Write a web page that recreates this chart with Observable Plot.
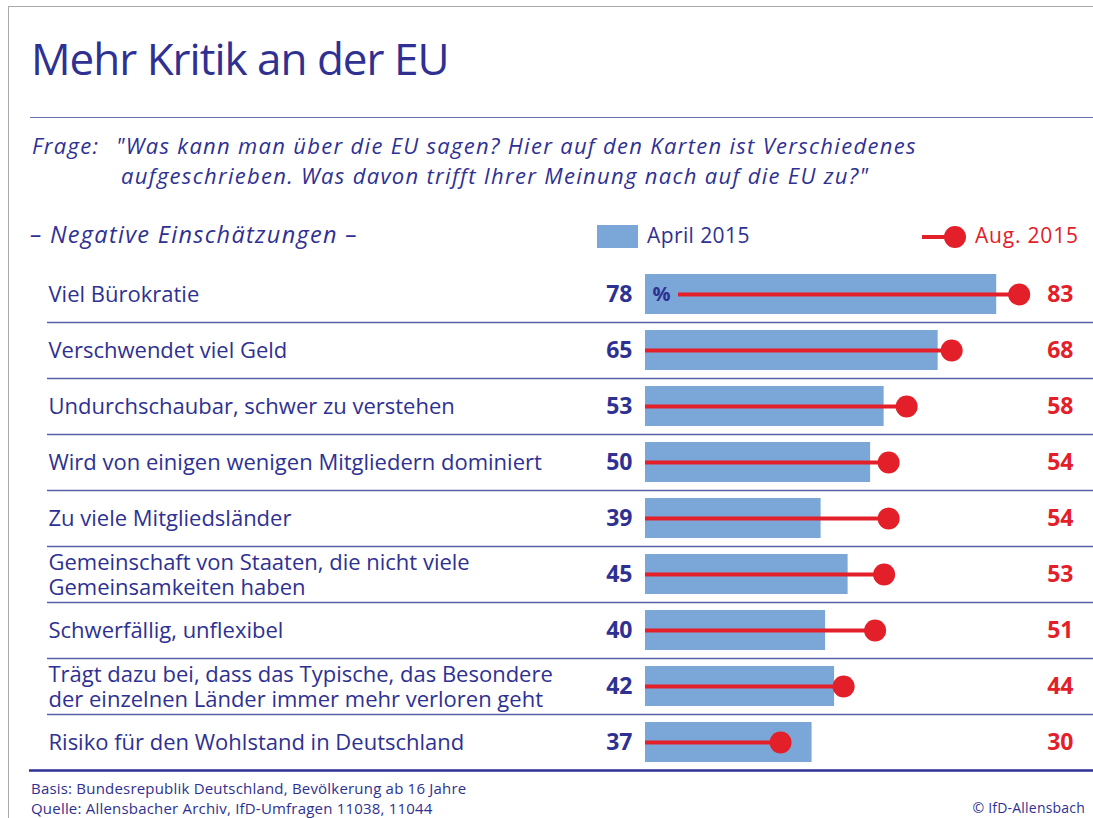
<!DOCTYPE html>
<html>
<head>
<meta charset="utf-8">
<script src="https://cdn.jsdelivr.net/npm/d3@7"></script>
<script src="https://cdn.jsdelivr.net/npm/@observablehq/plot@0.6"></script>
<style>
  html, body { margin:0; padding:0; background:#fff; }
  #page { position:relative; width:1093px; height:818px; overflow:hidden; font-family:"Open Sans", sans-serif; color:#2e3192; }
  .abs { position:absolute; white-space:nowrap; line-height:1; }
  #frame { position:absolute; left:8px; top:6px; width:1200px; height:1000px; border-left:1.5px solid #aaa; border-top:1.5px solid #aaa; }
  #title { left:31px; top:36px; font-size:44px; letter-spacing:-1px; }
  #titleline { position:absolute; left:30px; top:117px; width:1070px; height:0; border-top:1.5px solid #6a6fb5; }
  .q { font-style:italic; font-size:22px; letter-spacing:1.3px; }
  #legsq { position:absolute; left:597px; top:225px; width:41px; height:23px; background:#7ba7d8; }
  #legline { position:absolute; left:922px; top:235px; width:30px; height:4px; background:#e3202a; }
  #legdot { position:absolute; left:944px; top:226px; width:22px; height:22px; border-radius:50%; background:#e3202a; }
  .foot { font-size:15px; letter-spacing:0.2px; }
  #chart { position:absolute; left:0; top:258px; }
</style>
</head>
<body>
<div id="page">
  <div id="frame"></div>
  <div class="abs" id="title">Mehr Kritik an der EU</div>
  <div id="titleline"></div>
  <div class="abs q" style="left:32px; top:134px;">Frage:</div>
  <div class="abs q" style="left:116px; top:134px;">"Was kann man über die EU sagen? Hier auf den Karten ist Verschiedenes</div>
  <div class="abs q" style="left:121px; top:164px;">aufgeschrieben. Was davon trifft Ihrer Meinung nach auf die EU zu?"</div>
  <div class="abs q" style="left:30px; top:223px; font-size:23.5px; letter-spacing:1.3px;">– Negative Einschätzungen –</div>
  <div id="legsq"></div>
  <div class="abs" style="left:647px; top:225px; font-size:21px; letter-spacing:0.4px;">April 2015</div>
  <div id="legline"></div>
  <div id="legdot"></div>
  <div class="abs" style="left:975px; top:225px; font-size:21px; letter-spacing:0.8px; color:#e3202a;">Aug. 2015</div>
  <div id="chart"></div>
  <div class="abs foot" style="left:31px; top:781px;">Basis: Bundesrepublik Deutschland, Bevölkerung ab 16 Jahre</div>
  <div class="abs foot" style="left:31px; top:801px;">Quelle: Allensbacher Archiv, IfD-Umfragen 11038, 11044</div>
  <div class="abs foot" style="right:8px; top:801px; font-size:14px;">© IfD-Allensbach</div>
</div>
<script>
const categories = [
  "Viel Bürokratie",
  "Verschwendet viel Geld",
  "Undurchschaubar, schwer zu verstehen",
  "Wird von einigen wenigen Mitgliedern dominiert",
  "Zu viele Mitgliedsländer",
  "Gemeinschaft von Staaten, die nicht viele\nGemeinsamkeiten haben",
  "Schwerfällig, unflexibel",
  "Trägt dazu bei, dass das Typische, das Besondere\nder einzelnen Länder immer mehr verloren geht",
  "Risiko für den Wohlstand in Deutschland"
];
const april2015 = [78, 65, 53, 50, 39, 45, 40, 42, 37];
const aug2015 = [83, 68, 58, 54, 54, 53, 51, 44, 30];

const BLUE = "#2e3192", RED = "#e3202a", BAR = "#7ba7d8";
const rows = categories.map((c, i) => ({cat: c, apr: april2015[i], aug: aug2015[i], idx: i}));
const first = rows.filter(d => d.idx === 0);
const rest = rows.filter(d => d.idx !== 0);

const chart = Plot.plot({
  width: 1093,
  height: 520,
  marginLeft: 645,
  marginRight: 0,
  marginTop: 7,
  marginBottom: 7,
  x: {domain: [0, 99.5], axis: null},
  y: {domain: categories, axis: null, padding: 0},
  style: {fontFamily: "'Open Sans', sans-serif", background: "transparent"},
  marks: [
    Plot.barX(rows, {x: "apr", y: "cat", fill: BAR, insetTop: 8, insetBottom: 8}),
    Plot.ruleY(rows.slice(0, -1), {y: "cat", dy: 28.1, stroke: "#5a5fa8", strokeWidth: 1.5, insetLeft: -598}),
    Plot.ruleY(rows.slice(-1), {y: "cat", dy: 28.1, stroke: BLUE, strokeWidth: 2.5, insetLeft: -616}),
    Plot.ruleY(rest, {y: "cat", x1: () => 0, x2: "aug", stroke: RED, strokeWidth: 4}),
    Plot.ruleY(first, {y: "cat", x1: () => 0, x2: "aug", stroke: RED, strokeWidth: 4, insetLeft: 33}),
    Plot.dot(rows, {x: "aug", y: "cat", r: 11, fill: RED}),
    Plot.text(first, {x: () => 0, y: "cat", text: () => "%", textAnchor: "start", dx: 7, fill: BLUE, fontWeight: "bold", fontSize: 20}),
    Plot.text(rows, {x: () => 0, y: "cat", text: "apr", textAnchor: "end", dx: -13, fill: BLUE, fontWeight: "bold", fontSize: 23}),
    Plot.text(rows, {y: "cat", frameAnchor: "right", text: "aug", textAnchor: "end", dx: -20, fill: RED, fontWeight: "bold", fontSize: 23}),
    Plot.text(rows, {y: "cat", frameAnchor: "left", text: "cat", textAnchor: "start", dx: -597, fill: BLUE, fontSize: 22, lineHeight: 1.12})
  ]
});
document.getElementById("chart").appendChild(chart);
</script>
</body>
</html>
